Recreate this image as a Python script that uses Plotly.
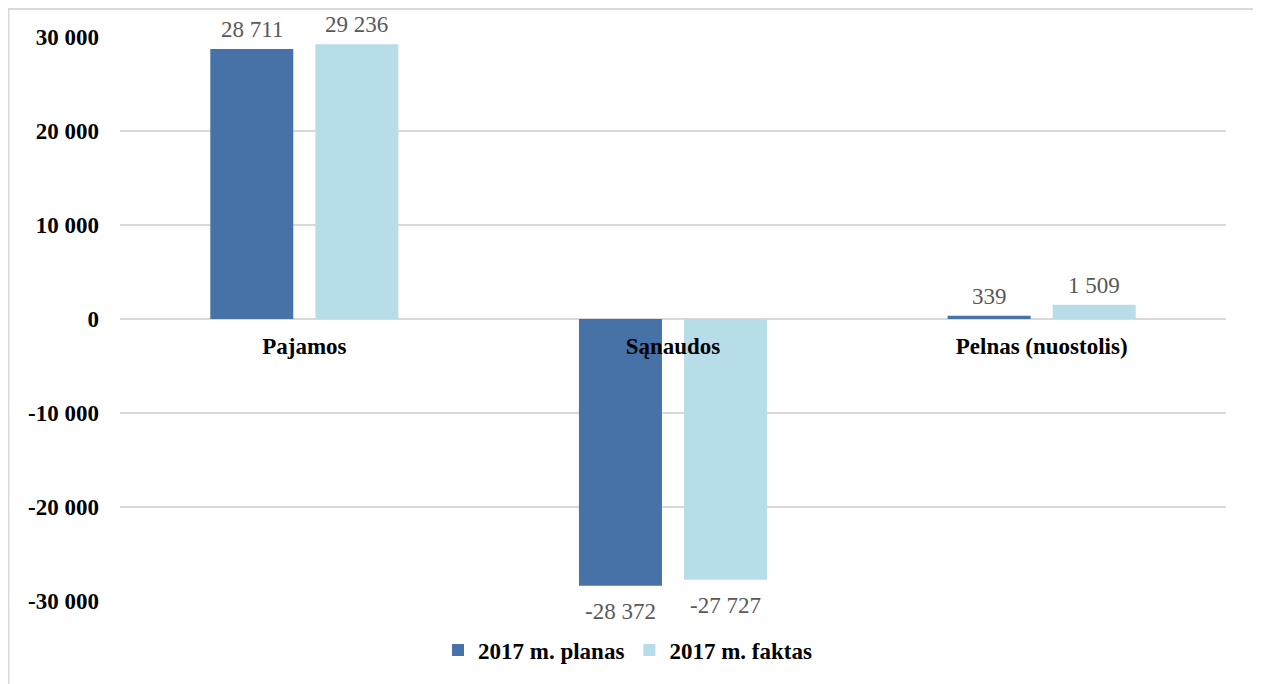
import plotly.graph_objects as go

categories = ["Pajamos", "Sąnaudos", "Pelnas (nuostolis)"]
planas = [28711, -28372, 339]
faktas = [29236, -27727, 1509]
series_names = ["2017 m. planas", "2017 m. faktas"]
y_ticks = [-30000, -20000, -10000, 0, 10000, 20000, 30000]
y_tick_labels = ["-30 000", "-20 000", "-10 000", "0", "10 000", "20 000", "30 000"]


def fmt(v):
    return f"{v:,}".replace(",", " ")


# page has 8px body margin, so the figure is 8px smaller than the window
W, H = 1253, 676
ML, MR, MT, MB = 112, 35, 29, 83
pw, ph = W - ML - MR, H - MT - MB
BARGAP, GROUPGAP = 0.43, 0.21
slot = (pw / len(categories)) * (1 - BARGAP) / 2

colors = ["#4672A7", "#B7DDE8"]
fig = go.Figure()
for name, vals, color in [(series_names[0], planas, colors[0]), (series_names[1], faktas, colors[1])]:
    fig.add_trace(go.Bar(x=categories, y=vals, name=name, marker_color=color, marker_line_width=0))

annotations = []
for k, vals in enumerate([planas, faktas]):
    shift = (k - 0.5) * slot
    for c, v in zip(categories, vals):
        annotations.append(dict(
            x=c, y=v, xref="x", yref="y", text=fmt(v), showarrow=False,
            xshift=shift, yanchor="bottom" if v >= 0 else "top", yshift=5 if v >= 0 else -11,
            font=dict(family="Liberation Serif", size=23, color="#595959")))

fig.update_layout(
    width=W, height=H,
    margin=dict(l=ML, r=MR, t=MT, b=MB),
    paper_bgcolor="white", plot_bgcolor="white",
    barmode="group", bargap=BARGAP, bargroupgap=GROUPGAP,
    showlegend=True,
    legend=dict(orientation="h", x=(430 - ML) / pw, xanchor="left", y=-(642 - 593) / ph, yanchor="middle",
                font=dict(family="Liberation Serif", size=23, color="black", weight="bold"),
                itemwidth=30, traceorder="normal"),
    xaxis=dict(anchor="free", position=0.5, showgrid=False, showline=False, ticks="",
               tickfont=dict(family="Liberation Serif", size=23, color="black", weight="bold"),
               ticklabelstandoff=11),
    yaxis=dict(range=[-30000, 30000], tickvals=y_ticks, ticktext=y_tick_labels,
               showgrid=True, gridcolor="#D9D9D9", gridwidth=1.5,
               zeroline=True, zerolinecolor="#D9D9D9", zerolinewidth=1.5,
               showline=False, ticks="", ticklabelstandoff=20,
               tickfont=dict(family="Liberation Serif", size=23, color="black", weight="bold")),
    annotations=annotations,
)

# outer chart frame
plot_bottom = MT + ph
fig.add_shape(type="rect", xref="paper", yref="paper",
              x0=(0.5 - ML) / pw, x1=(1247 - ML) / pw,
              y0=(plot_bottom - (H + 10)) / ph, y1=(plot_bottom - 1) / ph,
              line=dict(color="#D9D9D9", width=2), fillcolor="rgba(0,0,0,0)", layer="below")

fig.write_html("out.html")
